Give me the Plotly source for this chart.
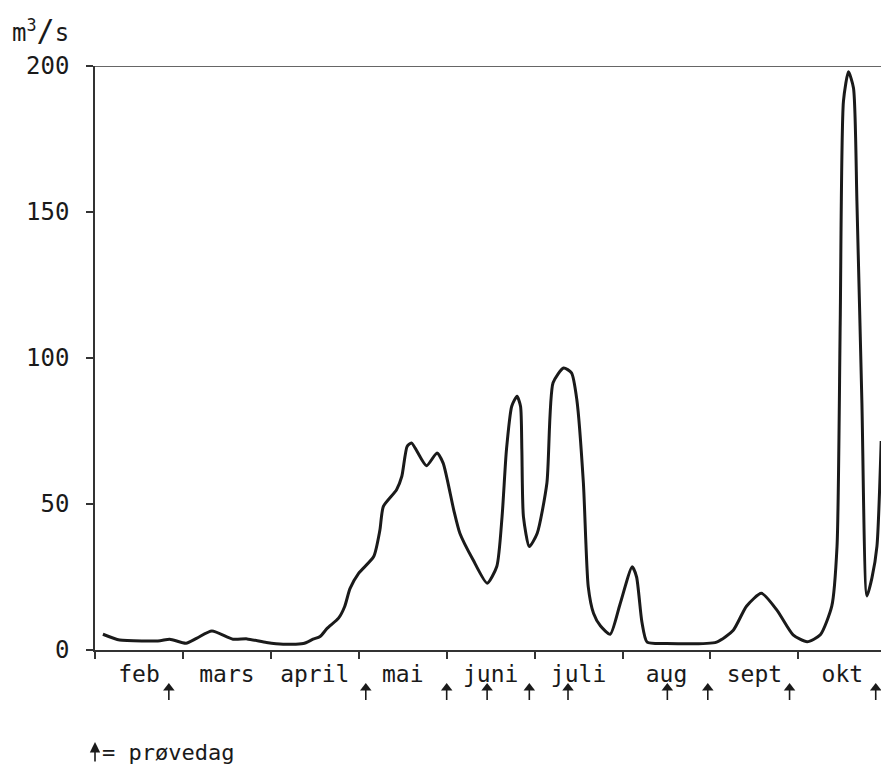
import plotly.graph_objects as go

# x in months since 1 Feb (0 = 1 Feb, 1 = 1 Mar, ...), y = discharge m3/s
months = [0.09, 0.28, 0.55, 0.74, 0.85, 1.035, 1.16, 1.33, 1.57, 1.73, 1.95, 2.14,
          2.37, 2.48, 2.56, 2.64, 2.77, 2.84, 2.90, 3.00, 3.17, 3.24, 3.28, 3.43,
          3.49, 3.55, 3.60, 3.77, 3.89, 3.96, 4.08, 4.15, 4.30, 4.46, 4.57, 4.63,
          4.68, 4.74, 4.80, 4.84, 4.855, 4.873, 4.94, 5.03, 5.14, 5.21, 5.33, 5.42,
          5.48, 5.555, 5.61, 5.67, 5.75, 5.86, 5.97, 6.11, 6.16, 6.22, 6.28, 6.50,
          7.07, 7.26, 7.41, 7.58, 7.76, 7.94, 8.10, 8.25, 8.38, 8.44, 8.476, 8.513,
          8.57, 8.627, 8.666, 8.723, 8.78, 8.837, 8.894, 8.942]
discharge = [5.4, 3.4, 3.1, 3.2, 3.7, 2.3, 4.1, 6.5, 3.7, 3.8, 2.6, 2.0,
             2.2, 3.7, 4.6, 7.4, 10.9, 14.9, 21.0, 26.3, 32, 41, 49.2, 54.9,
             59.5, 69.7, 70.9, 63.1, 67.5, 64, 48, 40, 30.9, 22.9, 28.6, 45.7,
             68.6, 83.5, 86.9, 83.5, 68.6, 45.7, 35.4, 40, 57.2, 91.5, 96.6, 94.9,
             85.8, 57.2, 21.7, 12.6, 8.2, 5.4, 15.5, 28.5, 25, 9.7, 2.7, 2.2,
             2.7, 6.8, 15, 19.4, 13.5, 5.2, 2.8, 5.2, 15, 35.6, 112, 188,
             198, 192.5, 153.7, 84.4, 18.5, 24.7, 35.6, 71.6]

month_names = ["feb", "mars", "april", "mai", "juni", "juli", "aug", "sept", "okt"]
month_starts = [0, 1, 2, 3, 4, 5, 6, 7, 8]
sample_days = [0.84, 3.08, 4.00, 4.46, 4.94, 5.38, 6.51, 6.97, 7.90, 8.88]

y_ticks = [0, 50, 100, 150, 200]

FONT = "DejaVu Sans Mono"
INK = "#1a1a1a"

fig = go.Figure()
fig.add_trace(go.Scatter(
    x=months, y=discharge, mode="lines",
    line=dict(color=INK, width=3, shape="spline", smoothing=0.6),
    hoverinfo="skip", showlegend=False,
))

# sample-day arrows: drawn in a hidden strip axis (y2) below the main axis
shaft_x, shaft_y = [], []
for d in sample_days:
    shaft_x += [d, d, None]
    shaft_y += [-50, -38, None]
fig.add_trace(go.Scatter(
    x=shaft_x, y=shaft_y, mode="lines", xaxis="x", yaxis="y2",
    line=dict(color=INK, width=1.6), hoverinfo="skip", showlegend=False,
))
fig.add_trace(go.Scatter(
    x=sample_days, y=[-38] * len(sample_days), mode="markers",
    xaxis="x", yaxis="y2",
    marker=dict(symbol="triangle-up", size=10, color=INK, line=dict(width=0)),
    hoverinfo="skip", showlegend=False,
))

FIG_W, FIG_H = 881, 771
TOP = 66
AXIS_Y = 650
PLOT_H = FIG_H - TOP
split = (FIG_H - AXIS_Y) / PLOT_H

fig.update_layout(
    width=FIG_W, height=FIG_H,
    margin=dict(l=95, r=0, t=TOP, b=0, autoexpand=False),
    paper_bgcolor="white", plot_bgcolor="rgba(0,0,0,0)",
    font=dict(family=FONT, size=23, color=INK),
    showlegend=False,
    yaxis2=dict(domain=[0, split], range=[-(FIG_H - AXIS_Y), 0],
                visible=False, fixedrange=True, automargin=False),
)

fig.update_xaxes(
    range=[0, 8.94], automargin=False,
    showgrid=False, zeroline=False,
    showline=True, linecolor="#333", linewidth=1.5,
    tickmode="array",
    tickvals=[m + 0.5 for m in month_starts],
    ticktext=month_names,
    ticks="", ticklabelstandoff=3,
    tickfont=dict(family=FONT, size=23, color=INK),
    minor=dict(tickmode="array", tickvals=month_starts, ticks="outside",
               ticklen=7, tickwidth=1.5, tickcolor="#333", showgrid=False),
)
fig.update_layout(yaxis=dict(
    domain=[split, 1], automargin=False,
    range=[0, 200],
    showgrid=False, zeroline=False,
    showline=True, linecolor="#333", linewidth=1.5,
    tickmode="array", tickvals=y_ticks, ticktext=[str(v) for v in y_ticks],
    ticks="outside", ticklen=7, tickwidth=1.5, tickcolor="#333",
    ticklabelstandoff=12,
    tickfont=dict(family=FONT, size=24, color=INK),
))

# top frame line
fig.add_shape(type="line", xref="paper", yref="y", x0=0, x1=1, y0=200, y1=200,
              line=dict(color="#333", width=1.5))

# legend for arrows
fig.add_annotation(x=0, xref="paper", y=-92, yref="y2",
                   ax=0, ay=21, showarrow=True, arrowhead=2, arrowsize=1.3,
                   arrowwidth=1.6, arrowcolor=INK, text="")
fig.add_annotation(x=0.006, xref="paper", y=-102, yref="y2",
                   xanchor="left", yanchor="middle", showarrow=False,
                   text="= prøvedag", font=dict(family=FONT, size=22, color=INK))

# unit label
fig.add_annotation(x=-0.108, xref="paper", y=1.051, yref="paper",
                   xanchor="left", yanchor="middle", showarrow=False,
                   text="m<sup>3</sup><span style='font-size:30px'>/</span>s",
                   font=dict(family=FONT, size=24, color=INK))

# remove the default 8px page margin so the figure fills the window exactly
fig.write_html("out.html",
               config={"displayModeBar": False},
               post_script="document.body.style.margin='0';"
                           "document.body.style.overflow='hidden';")
